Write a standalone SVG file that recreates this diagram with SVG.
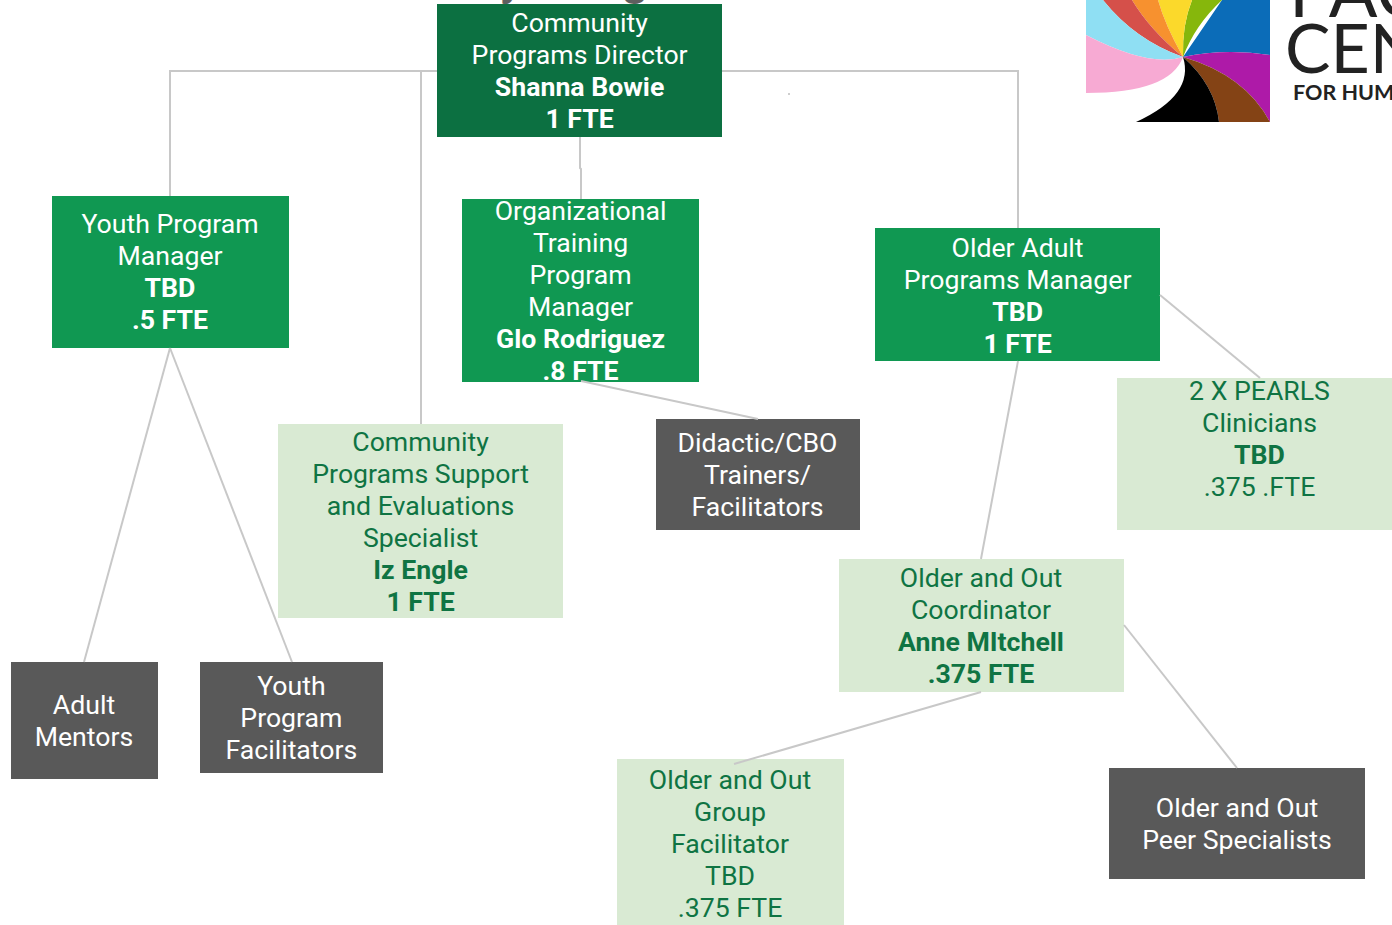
<svg xmlns="http://www.w3.org/2000/svg" width="1392" height="925" viewBox="0 0 1392 925">
<style>
text{font-family:Roboto,"Liberation Sans",sans-serif;font-size:26.67px;text-anchor:middle}
.w{fill:#fff}.g{fill:#0f7443}.b{font-weight:700}
.dk{fill:#0c7041}.md{fill:#109852}.lt{fill:#d9ead3}.gr{fill:#595959}
.c{fill:none;stroke:#c8c8c8;stroke-width:2}
.lg{font-family:Lato,"Open Sans",sans-serif;fill:#222;text-anchor:start}
</style>
<rect width="1392" height="925" fill="#fff"/>
<g id="title"><text x="511" y="-5" font-weight="700" fill="#5f5f5f" style="font-size:45px">y</text><text x="635" y="-5" font-weight="700" fill="#5f5f5f" style="font-size:45px">g</text></g>
<g id="n-director"><rect class="dk" x="437" y="4" width="285" height="133"/><text class="w" x="579.6" y="32">Community</text><text class="w" x="579.6" y="64">Programs Director</text><text class="w b" x="579.6" y="96">Shanna Bowie</text><text class="w b" x="579.6" y="128">1 FTE</text></g>
<g id="n-youth"><rect class="md" x="52" y="196" width="237" height="152"/><text class="w" x="170" y="233">Youth Program</text><text class="w" x="170" y="265">Manager</text><text class="w b" x="170" y="297">TBD</text><text class="w b" x="170" y="329">.5 FTE</text></g>
<g id="n-training"><rect class="md" x="462" y="199" width="237" height="183"/><text class="w" x="580.6" y="220">Organizational</text><text class="w" x="580.6" y="252">Training</text><text class="w" x="580.6" y="284">Program</text><text class="w" x="580.6" y="316">Manager</text><text class="w b" x="580.6" y="348">Glo Rodriguez</text><text class="w b" x="580.6" y="380">.8 FTE</text></g>
<g id="n-older"><rect class="md" x="875" y="228" width="285" height="133"/><text class="w" x="1017.6" y="257">Older Adult</text><text class="w" x="1017.6" y="289">Programs Manager</text><text class="w b" x="1017.6" y="321">TBD</text><text class="w b" x="1017.6" y="353">1 FTE</text></g>
<g id="n-pearls"><rect class="lt" x="1117" y="378" width="275" height="152"/><text class="g" x="1259.5" y="400">2 X PEARLS</text><text class="g" x="1259.5" y="432">Clinicians</text><text class="g b" x="1259.5" y="464">TBD</text><text class="g" x="1259.5" y="496">.375 .FTE</text></g>
<g id="n-support"><rect class="lt" x="278" y="424" width="285" height="194"/><text class="g" x="420.6" y="451">Community</text><text class="g" x="420.6" y="483">Programs Support</text><text class="g" x="420.6" y="515">and Evaluations</text><text class="g" x="420.6" y="547">Specialist</text><text class="g b" x="420.6" y="579">Iz Engle</text><text class="g b" x="420.6" y="611">1 FTE</text></g>
<g id="n-trainers"><rect class="gr" x="656" y="419" width="204" height="111"/><text class="w" x="757.5" y="452">Didactic/CBO</text><text class="w" x="757.5" y="484">Trainers/</text><text class="w" x="757.5" y="516">Facilitators</text></g>
<g id="n-coord"><rect class="lt" x="839" y="559" width="285" height="133"/><text class="g" x="981" y="587">Older and Out</text><text class="g" x="981" y="619">Coordinator</text><text class="g b" x="981" y="651">Anne MItchell</text><text class="g b" x="981" y="683">.375 FTE</text></g>
<g id="n-mentors"><rect class="gr" x="11" y="662" width="147" height="117"/><text class="w" x="84" y="714">Adult</text><text class="w" x="84" y="746">Mentors</text></g>
<g id="n-facil"><rect class="gr" x="200" y="662" width="183" height="111"/><text class="w" x="291.4" y="695">Youth</text><text class="w" x="291.4" y="727">Program</text><text class="w" x="291.4" y="759">Facilitators</text></g>
<g id="n-group"><rect class="lt" x="617" y="759" width="227" height="166"/><text class="g" x="730" y="789">Older and Out</text><text class="g" x="730" y="821">Group</text><text class="g" x="730" y="853">Facilitator</text><text class="g" x="730" y="885">TBD</text><text class="g" x="730" y="917">.375 FTE</text></g>
<g id="n-peer"><rect class="gr" x="1109" y="768" width="256" height="111"/><text class="w" x="1237" y="817">Older and Out</text><text class="w" x="1237" y="849">Peer Specialists</text></g>
<g id="connectors">
<path class="c" d="M437 71H170V196"/>
<path class="c" d="M437 71H421V424"/>
<path class="c" d="M722 71H1018V228"/>
<path class="c" d="M580 137V168L581 169V199"/>
<path class="c" d="M170 348L84 662"/>
<path class="c" d="M170 348L292 662"/>
<path class="c" d="M581 381L758 419"/>
<path class="c" d="M1160 295L1260 378"/>
<path class="c" d="M1018 361L981 559"/>
<path class="c" d="M981 692L734 764"/>
<path class="c" d="M1124 625L1237 768"/>
</g>
<g id="logo">
<path fill="#0b6cb8" d="M1222 0H1270V55Q1225 48 1183 57Q1205 25 1222 0Z"/>
<path fill="#86b70c" d="M1192 0H1222Q1195 25 1183 57Q1182 25 1192 0Z"/>
<path fill="#fbd92b" d="M1158 0H1192Q1182 25 1183 57Q1165 25 1158 0Z"/>
<path fill="#f7912f" d="M1132 0H1158Q1165 25 1183 57Q1150 30 1132 0Z"/>
<path fill="#d5504a" d="M1103 0H1132Q1150 30 1183 57Q1135 40 1103 0Z"/>
<path fill="#8fdff3" d="M1086 0H1103Q1135 40 1183 57Q1150 68 1086 35Z"/>
<path fill="#f7aad3" d="M1086 35Q1150 68 1183 57Q1170 93 1086 93Z"/>
<path fill="#ae1aa8" d="M1183 57Q1225 48 1270 55V122Q1245 75 1183 57Z"/>
<path fill="#844315" d="M1183 57Q1245 75 1270 122H1219Q1215 85 1183 57Z"/>
<path fill="#000" d="M1183 57Q1215 85 1219 122H1136Q1195 95 1183 57Z"/>
<text class="lg" x="1289" y="17" style="font-size:72px">PAC</text>
<text class="lg" x="1285" y="73" style="font-size:68px">CEN</text>
<text class="lg" x="1293" y="100" style="font-size:21.5px;font-weight:700">FOR HUM</text>
</g>
<circle id="speck" cx="789" cy="94" r="0.7" fill="#777"/>
</svg>
